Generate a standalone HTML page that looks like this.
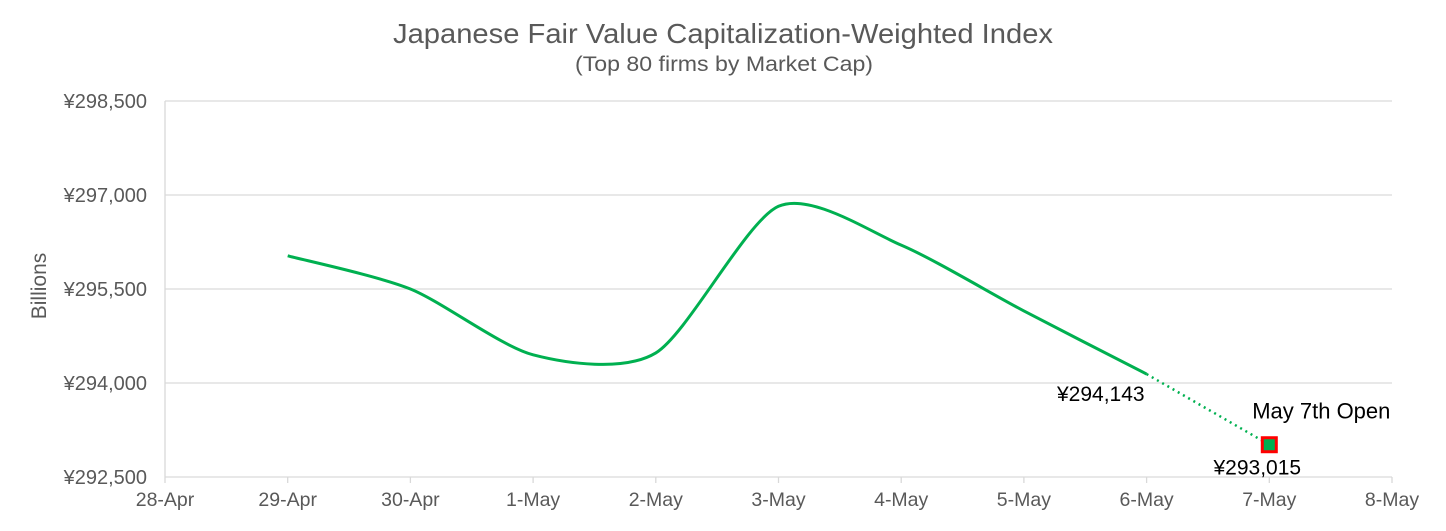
<!DOCTYPE html>
<html><head><meta charset="utf-8"><style>
body{margin:0;background:#fff;font-family:"Liberation Sans",Arial,sans-serif;}
svg text{font-family:"Liberation Sans",Arial,sans-serif;}
</style></head><body>
<svg id="chart" width="1446" height="526" xmlns="http://www.w3.org/2000/svg">
<rect width="1446" height="526" fill="#fff"/>
<text x="723" y="43" text-anchor="middle" font-size="28" fill="#595959" textLength="660" lengthAdjust="spacingAndGlyphs">Japanese Fair Value Capitalization-Weighted Index</text>
<text x="724" y="71" text-anchor="middle" font-size="21" fill="#595959" textLength="298" lengthAdjust="spacingAndGlyphs">(Top 80 firms by Market Cap)</text>
<text transform="translate(46,286) rotate(-90)" text-anchor="middle" font-size="21" fill="#595959">Billions</text>
<g id="grid"></g><g id="yticks"></g><g id="xticks"></g><g id="series"></g>
</svg>
<script>
const categories=["28-Apr","29-Apr","30-Apr","1-May","2-May","3-May","4-May","5-May","6-May","7-May","8-May"];
const actualValues=[null,296030,295500,294450,294480,296820,296200,295150,294143];
const openValues=[294143,293015];
const yTicks=[292500,294000,295500,297000,298500];
const yTickLabels=["¥292,500","¥294,000","¥295,500","¥297,000","¥298,500"];
const NS="http://www.w3.org/2000/svg";
const X0=165,X1=1392,Y0=477,Y1=101,VMIN=292500,VMAX=298500;
const xs=i=>X0+(X1-X0)*i/(categories.length-1);
const ys=v=>Y0-(v-VMIN)/(VMAX-VMIN)*(Y0-Y1);
function mk(t,a,p){const e=document.createElementNS(NS,t);for(const k in a)e.setAttribute(k,a[k]);(p||document.getElementById('series')).appendChild(e);return e;}
const grid=document.getElementById('grid'),yt=document.getElementById('yticks'),xt=document.getElementById('xticks');
yTicks.forEach((v,i)=>{
 const l=mk('line',{x1:X0,x2:X1,y1:ys(v),y2:ys(v),stroke:'#d9d9d9','stroke-width':1.3},grid);
 
 
 const t=mk('text',{x:147,y:ys(v)+7,'text-anchor':'end','font-size':20,fill:'#595959'},yt);
 t.textContent=yTickLabels[i];
 
 
});
const ax=mk('line',{x1:X0,x2:X0,y1:Y1,y2:Y0,stroke:'#d9d9d9','stroke-width':1.3},grid);


categories.forEach((c,i)=>{
 const tk=mk('line',{x1:xs(i),x2:xs(i),y1:Y0,y2:Y0+6,stroke:'#d9d9d9','stroke-width':1.3},xt);
 
 
 const t=mk('text',{x:xs(i),y:506,'text-anchor':'middle','font-size':19.5,fill:'#595959'},xt);
 t.textContent=c;
 
 
});
const pts=[];actualValues.forEach((v,i)=>{if(v!==null)pts.push([xs(i),ys(v)]);});
let d=`M${pts[0][0]},${pts[0][1]}`;
for(let i=0;i<pts.length-1;i++){
 const p0=pts[Math.max(0,i-1)],p1=pts[i],p2=pts[i+1],p3=pts[Math.min(pts.length-1,i+2)];
 const k=0.13;
 d+=` C${p1[0]+(p2[0]-p0[0])*k},${p1[1]+(p2[1]-p0[1])*k} ${p2[0]-(p3[0]-p1[0])*k},${p2[1]-(p3[1]-p1[1])*k} ${p2[0]},${p2[1]}`;
}
const line=mk('path',{d:d,fill:'none',stroke:'#00B050','stroke-width':3});


const n=actualValues.length-1;
const dl=mk('line',{x1:xs(n),y1:ys(openValues[0]),x2:xs(n+1),y2:ys(openValues[1]),stroke:'#00B050','stroke-width':2.5,'stroke-dasharray':'2 4'});


const mx=xs(n+1),my=ys(openValues[1]);
const m=mk('rect',{x:mx-7,y:my-7,width:14,height:14,fill:'#00B050',stroke:'#FF0000','stroke-width':3});


const fmt=v=>'¥'+v.toLocaleString('en-US');
const l1=mk('text',{x:xs(n)-2,y:ys(openValues[0])+27,'text-anchor':'end','font-size':21,fill:'#000'});
l1.textContent=fmt(openValues[0]);


const l2=mk('text',{x:mx-12,y:my+30,'text-anchor':'middle','font-size':21,fill:'#000'});
l2.textContent=fmt(openValues[1]);


const l3=mk('text',{x:mx+52,y:my-26,'text-anchor':'middle','font-size':22,fill:'#000'});
l3.textContent='May 7th Open';


</script>
</body></html>
